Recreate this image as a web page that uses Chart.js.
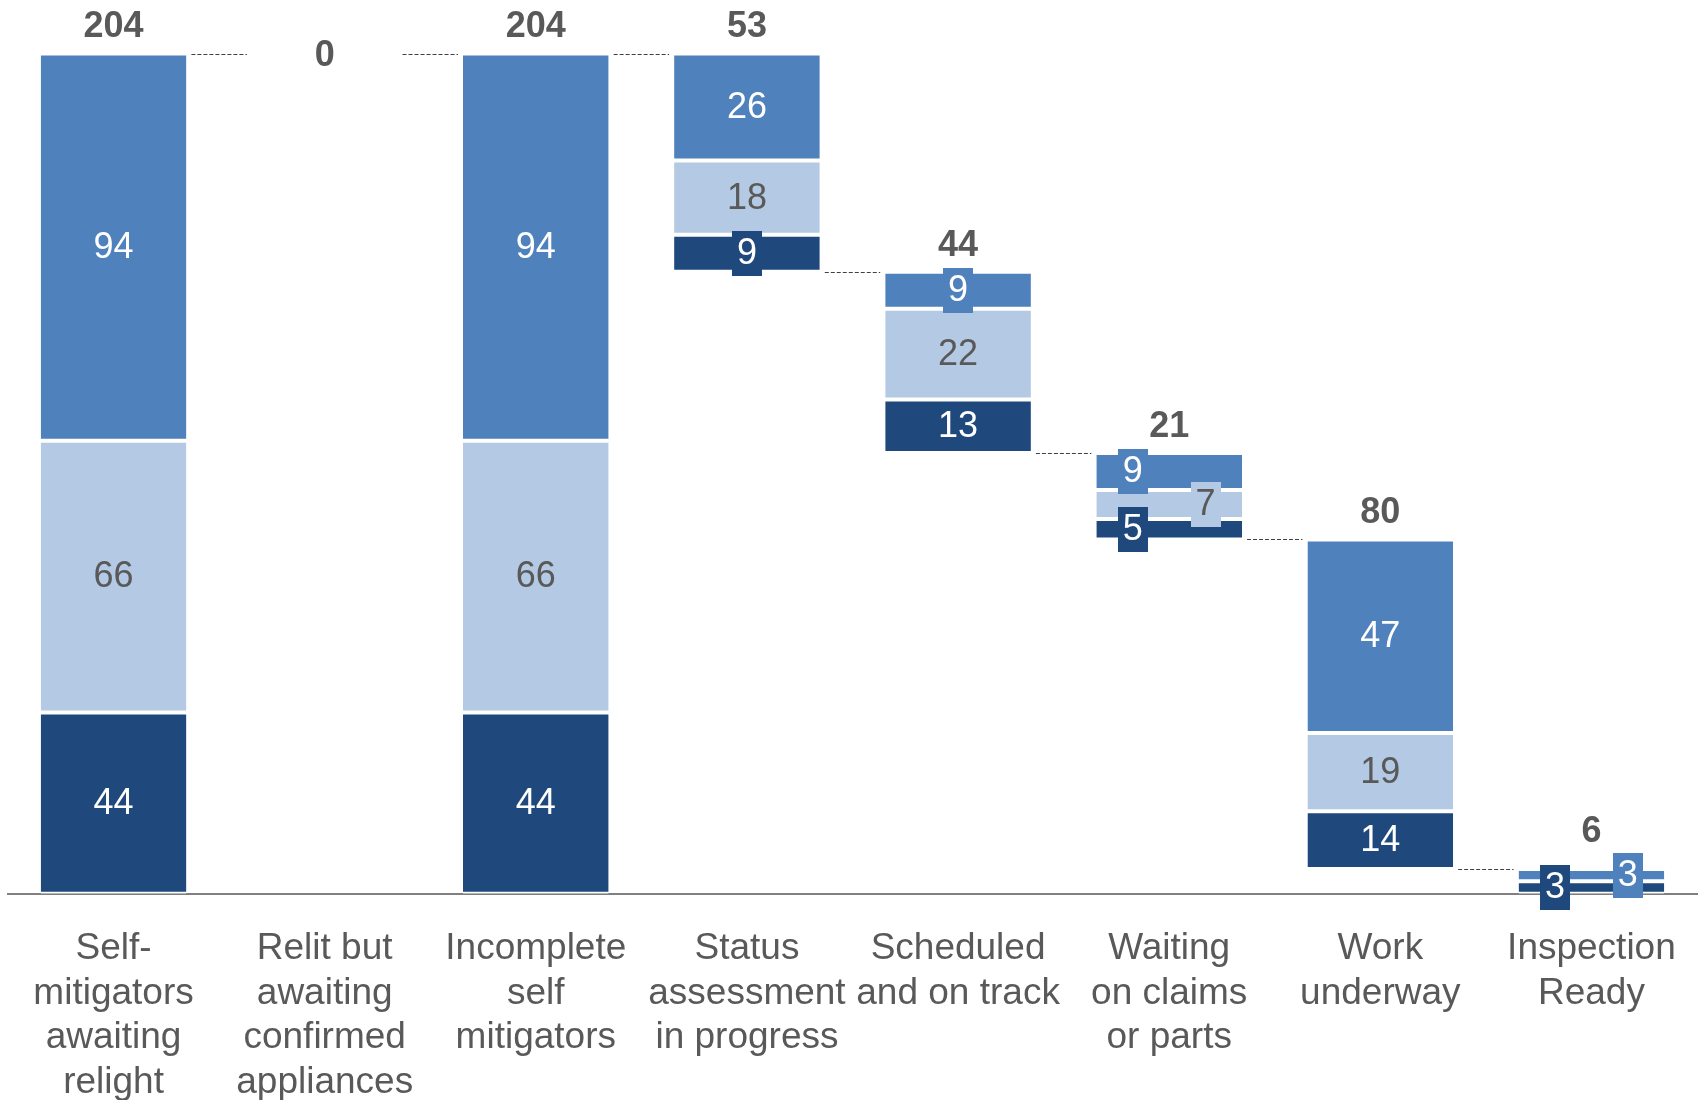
<!DOCTYPE html>
<html><head><meta charset="utf-8">
<script src="https://cdn.jsdelivr.net/npm/chart.js@4.4.1/dist/chart.umd.min.js"></script>
<style>html,body{margin:0;padding:0;background:#fff}canvas{display:block}</style>
</head><body>
<canvas id="c" width="1704" height="1100"></canvas>
<script>
// ---- data ----
const categories = [
  ["Self-","mitigators","awaiting","relight"],
  ["Relit but","awaiting","confirmed","appliances"],
  ["Incomplete","self","mitigators"],
  ["Status","assessment","in progress"],
  ["Scheduled","and on track"],
  ["Waiting","on claims","or parts"],
  ["Work","underway"],
  ["Inspection","Ready"]
];
const barKind     = ['total','step','total','step','step','step','step','step'];
const darkValues  = [44, 0, 44,  9, 13, 5, 14, 3];
const lightValues = [66, 0, 66, 18, 22, 7, 19, 0];
const blueValues  = [94, 0, 94, 26,  9, 9, 47, 3];

// ---- styling ----
const COLORS   = ['#1F497D', '#B4C9E3', '#4F81BD'];   // dark, light, blue
const TEXTCOL  = ['#FFFFFF', '#595959', '#FFFFFF'];
const GRAY     = '#595959';
const FONT     = "'Liberation Sans', Arial, sans-serif";
const BAR_PCT  = 0.69;
// horizontal shift of segment labels, in quarter bar widths [dark, light, blue]
const labelShift = {5: [-1, 1, -1], 7: [-1, 0, 1]};

// ---- waterfall geometry from values ----
const series = [darkValues, lightValues, blueValues];
const totals = darkValues.map((v, i) => v + lightValues[i] + blueValues[i]);
const bases = [], tops = [], levelAfter = [];
let level = 0;
totals.forEach((t, i) => {
  if (barKind[i] === 'total') { bases.push(0); tops.push(t); level = t; }
  else { tops.push(level); bases.push(level - t); level = level - t; }
  levelAfter.push(level);
});
const ranges = series.map((vals, s) => vals.map((v, i) => {
  if (!v) return null;
  let lo = bases[i];
  for (let k = 0; k < s; k++) lo += series[k][i];
  return [lo, lo + v];
}));

const overlay = {
  id: 'overlay',
  afterDatasetsDraw(chart) {
    const ctx = chart.ctx, xs = chart.scales.x, ys = chart.scales.y;
    const step = xs.getPixelForValue(1) - xs.getPixelForValue(0);
    const w = step * BAR_PCT;
    ctx.save();
    // connectors
    ctx.strokeStyle = '#404040'; ctx.lineWidth = 1; ctx.setLineDash([4, 2]);
    for (let i = 0; i < categories.length - 1; i++) {
      const y = Math.round(ys.getPixelForValue(levelAfter[i])) + 0.5;
      const x1 = xs.getPixelForValue(i) + w / 2 + 5;
      const x2 = xs.getPixelForValue(i + 1) - w / 2 - 5;
      ctx.beginPath(); ctx.moveTo(x1, y); ctx.lineTo(x2, y); ctx.stroke();
    }
    ctx.setLineDash([]);
    ctx.textAlign = 'center'; ctx.textBaseline = 'middle';
    ctx.font = '36px ' + FONT;
    const boxTop = categories.map(() => Infinity);
    // segment labels
    for (let s = 0; s < 3; s++) {
      const meta = chart.getDatasetMeta(s);
      series[s].forEach((v, i) => {
        if (!v) return;
        const el = meta.data[i];
        const cy = (el.y + el.base) / 2;
        const sh = labelShift[i] ? labelShift[i][s] : 0;
        const cx = el.x + sh * w / 4;
        if (v < 10) {
          const bw = 30, bh = 45;
          ctx.fillStyle = COLORS[s];
          ctx.fillRect(Math.round(cx - bw / 2), Math.round(cy - bh / 2), bw, bh);
          boxTop[i] = Math.min(boxTop[i], cy - bh / 2);
        }
        ctx.fillStyle = TEXTCOL[s];
        ctx.fillText(String(v), cx, cy + 1);
      });
    }
    // totals
    ctx.font = 'bold 36px ' + FONT;
    ctx.fillStyle = GRAY;
    totals.forEach((t, i) => {
      const topPx = ys.getPixelForValue(tops[i]);
      const cx = xs.getPixelForValue(i);
      const cy = t === 0 ? topPx + 3 : Math.min(topPx - 26, boxTop[i] - 21);
      ctx.fillText(String(t), cx, cy);
    });
    ctx.restore();
  }
};

new Chart(document.getElementById('c'), {
  type: 'bar',
  data: {
    labels: categories,
    datasets: series.map((_, s) => ({
      data: ranges[s],
      backgroundColor: COLORS[s],
      borderColor: '#FFFFFF',
      borderWidth: {top: 2, bottom: 2, left: 0, right: 0},
      borderSkipped: false,
      grouped: false,
      barPercentage: BAR_PCT,
      categoryPercentage: 1
    }))
  },
  options: {
    responsive: false,
    animation: false,
    devicePixelRatio: 1,
    layout: {padding: {left: 8, right: 7, top: 0, bottom: -30}},
    plugins: {legend: {display: false}, tooltip: {enabled: false}},
    scales: {
      x: {
        grid: {display: false},
        border: {display: true, color: '#808080', width: 2},
        ticks: {
          autoSkip: false, maxRotation: 0, minRotation: 0,
          color: GRAY, padding: 25,
          font: {family: FONT, size: 37, lineHeight: 1.205}
        }
      },
      y: {display: false, min: 0, max: 217}
    }
  },
  plugins: [overlay]
});
</script>
</body></html>
